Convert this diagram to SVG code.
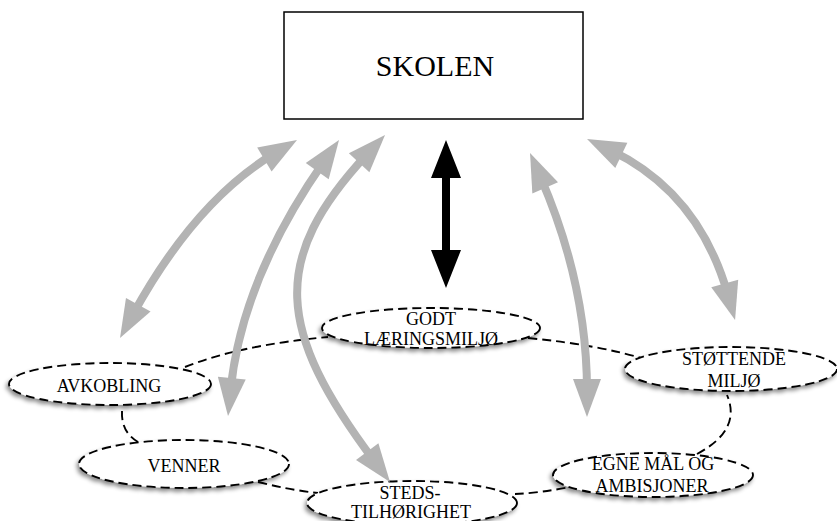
<svg xmlns="http://www.w3.org/2000/svg" width="837" height="521" viewBox="0 0 837 521">
<defs>
<style>
.node ellipse{fill:#fff;stroke:#000;stroke-width:1.9;stroke-dasharray:9 5;filter:url(#sh)}
.node text,.box text{font-family:"Liberation Serif","Times New Roman",serif;fill:#000;text-anchor:middle}
.node text{font-size:18px}
.dash{fill:none;stroke:#000;stroke-width:1.9;stroke-dasharray:9 5}
.garrow{fill:none;stroke:#b3b3b3;stroke-width:8;marker-start:url(#gh);marker-end:url(#gh)}
</style>
<filter id="sh" x="-20%" y="-40%" width="140%" height="180%">
<feDropShadow dx="-2" dy="3" stdDeviation="2" flood-color="#000" flood-opacity="0.45"/>
</filter>
<marker id="gh" markerUnits="userSpaceOnUse" markerWidth="38" markerHeight="28" refX="12" refY="14" orient="auto-start-reverse" overflow="visible">
<path d="M0,0 L38,14 L0,28 z" fill="#b3b3b3"/>
</marker>
</defs>
<rect width="837" height="521" fill="#fff"/>

<g id="connectors">
<path class="dash" d="M185,367 Q240,345 328,337"/>
<path class="dash" d="M122,411 Q121,432 138,442"/>
<path class="dash" d="M258,482 Q290,490 318,493"/>
<path class="dash" d="M515,494 Q540,493 570,487"/>
<path class="dash" d="M697,454 Q742,430 727,395"/>
<path class="dash" d="M528,338 Q600,345 648,360"/>
</g>

<g id="node-godt" class="node">
<ellipse cx="431" cy="328" rx="109" ry="20"/>
<text x="431" y="325">GODT</text>
<text x="431" y="345">LÆRINGSMILJØ</text>
</g>
<g id="node-avkobling" class="node">
<ellipse cx="110" cy="384" rx="101" ry="21"/>
<text x="109" y="392">AVKOBLING</text>
</g>
<g id="node-venner" class="node">
<ellipse cx="184" cy="464" rx="105" ry="24"/>
<text x="184" y="472">VENNER</text>
</g>
<g id="node-steds" class="node">
<ellipse cx="412" cy="503" rx="105" ry="22"/>
<text x="410" y="499">STEDS-</text>
<text x="411" y="518">TILHØRIGHET</text>
</g>
<g id="node-egne" class="node">
<ellipse cx="653" cy="475" rx="100" ry="22"/>
<text x="653" y="470">EGNE MÅL OG</text>
<text x="652" y="492">AMBISJONER</text>
</g>
<g id="node-stottende" class="node">
<ellipse cx="731" cy="369" rx="106" ry="22"/>
<text x="734" y="365">STØTTENDE</text>
<text x="734" y="387">MILJØ</text>
</g>

<g id="arrows">
<path class="garrow" d="M132.5,315.2 Q195,201 274.7,153.3"/>
<path class="garrow" d="M230.6,390.1 Q241.7,279 324.1,161.3"/>
<path class="garrow" d="M374.4,461.2 C276,330 269.4,259.1 367.3,154"/>
<path class="garrow" d="M587,391 Q587,284 540.4,176.8"/>
<path class="garrow" d="M728,295 Q699,192.6 610.5,150.2"/>
<path id="black-arrow" d="M446,140 L461,178 L450,178 L450,250 L461,250 L446,288 L431,250 L442,250 L442,178 L431,178 Z" fill="#000"/>
</g>

<g id="node-skolen" class="box">
<rect x="284" y="12" width="299" height="107" fill="#fff" stroke="#000" stroke-width="1.5"/>
<text x="435" y="76" font-size="30">SKOLEN</text>
</g>
</svg>
